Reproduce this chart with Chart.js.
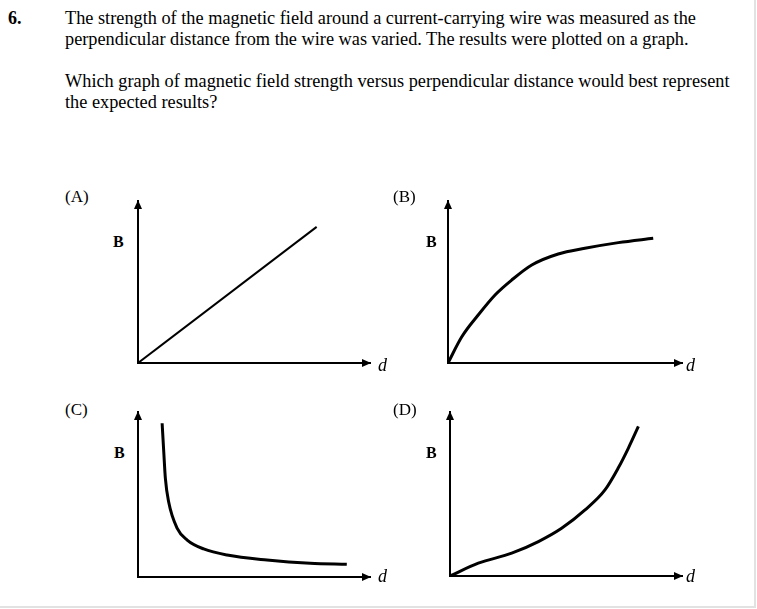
<!DOCTYPE html>
<html>
<head>
<meta charset="utf-8">
<script src="https://cdn.jsdelivr.net/npm/chart.js@4.4.1/dist/chart.umd.min.js"></script>
<style>
  html, body { margin: 0; padding: 0; background: #fff; }
  body { width: 757px; height: 609px; position: relative; overflow: hidden;
         font-family: "Liberation Serif", "Times New Roman", serif; color: #000; }
  .frame { position: absolute; left: 0; top: 0; width: 754px; height: 606px;
           border-right: 2px solid #e2e2e2; border-bottom: 2px solid #e2e2e2; }
  .txt { position: absolute; white-space: nowrap; }
  .num { left: 8px; top: 8px; font-size: 18px; line-height: 21px; font-weight: bold; }
  .question { left: 65px; top: 8px; font-size: 18.3px; line-height: 21px; }
  .opt { font-size: 17px; line-height: 18px; }
  .blabel { font-size: 16px; line-height: 16px; font-weight: bold; }
  .dlabel { font-size: 18px; line-height: 18px; font-style: italic; }
  canvas { position: absolute; }
</style>
</head>
<body>
<div class="frame"></div>
<div class="txt num">6.</div>
<div class="txt question">The strength of the magnetic field around a current-carrying wire was measured as the<br>perpendicular distance from the wire was varied. The results were plotted on a graph.<br><br>Which graph of magnetic field strength versus perpendicular distance would best represent<br>the expected results?</div>

<div id="panels"></div>

<script>
// curve values (d along x, B up the y axis, both 0..10)
const panelNames = ['(A)', '(B)', '(C)', '(D)'];
const dA = [0, 7.7];
const bA = [0, 8.4];
const dB = [0, 0.59, 1.29, 2.01, 2.72, 3.58, 4.71, 5.85, 7.28, 8.77];
const bB = [0, 1.62, 2.96, 4.20, 5.12, 6.05, 6.73, 7.08, 7.43, 7.70];
const dC = [1.04, 1.11, 1.18, 1.32, 1.69, 2.12, 2.83, 3.84, 5.56, 7.42, 9.0];
const bC = [9.32, 7.59, 5.98, 4.56, 2.95, 2.24, 1.70, 1.33, 1.03, 0.83, 0.77];
const dD = [0, 1.22, 2.66, 3.81, 4.81, 5.82, 6.68, 7.25, 7.69, 8.12];
const bD = [0, 0.78, 1.39, 2.10, 2.91, 4.03, 5.25, 6.58, 7.80, 9.12];
const axisMin = 0;
const axisMax = 10;

// where each little graph sits on the page: origin x/y, arrow tip x, top y
const layout = [
  { ox: 138, oy: 363, tip: 370, top: 201, lw: 2, label: [65, 188], bl: [113, 234], dl: [378, 356] },
  { ox: 448, oy: 363, tip: 682, top: 201, lw: 3, label: [393, 188], bl: [426, 234], dl: [686, 356] },
  { ox: 138, oy: 577, tip: 370, top: 412, lw: 3, label: [65, 401], bl: [114, 445], dl: [378, 567] },
  { ox: 450, oy: 576, tip: 682, top: 412, lw: 3, label: [393, 401], bl: [426, 445], dl: [686, 567] }
];
const series = [[dA, bA], [dB, bB], [dC, bC], [dD, bD]];
const PAD = 12;

const arrowHeads = {
  id: 'arrowHeads',
  afterDraw(chart) {
    const ctx = chart.ctx;
    const x = chart.scales.x, y = chart.scales.y;
    const ox = chart.chartArea.left, oy = chart.chartArea.bottom;
    ctx.save();
    ctx.fillStyle = '#000';
    // right arrow on d axis
    const tx = x.getPixelForValue(axisMax);
    ctx.beginPath();
    ctx.moveTo(tx + 1, oy);
    ctx.lineTo(tx - 8, oy - 4);
    ctx.lineTo(tx - 8, oy + 4);
    ctx.closePath();
    ctx.fill();
    // up arrow on B axis
    const ty = y.getPixelForValue(axisMax);
    ctx.beginPath();
    ctx.moveTo(ox, ty - 1);
    ctx.lineTo(ox - 4, ty + 8);
    ctx.lineTo(ox + 4, ty + 8);
    ctx.closePath();
    ctx.fill();
    ctx.restore();
  }
};

function addText(cls, text, pos) {
  const el = document.createElement('div');
  el.className = 'txt ' + cls;
  el.textContent = text;
  el.style.left = pos[0] + 'px';
  el.style.top = pos[1] + 'px';
  document.body.appendChild(el);
}

function makePanel(i) {
  const L = layout[i];
  const [ds, bs] = series[i];
  const canvas = document.createElement('canvas');
  const w = L.tip - L.ox + PAD * 2;
  const h = L.oy - L.top + PAD * 2;
  canvas.width = w;
  canvas.height = h;
  canvas.style.left = (L.ox - PAD) + 'px';
  canvas.style.top = (L.top - PAD) + 'px';
  canvas.style.width = w + 'px';
  canvas.style.height = h + 'px';
  document.getElementById('panels').appendChild(canvas);

  new Chart(canvas.getContext('2d'), {
    type: 'line',
    data: {
      datasets: [{
        data: ds.map((d, k) => ({ x: d, y: bs[k] })),
        borderColor: '#000',
        borderWidth: L.lw,
        pointRadius: 0,
        fill: false,
        cubicInterpolationMode: 'monotone'
      }]
    },
    options: {
      responsive: false,
      animation: false,
      devicePixelRatio: 1,
      layout: { padding: PAD },
      plugins: { legend: { display: false }, tooltip: { enabled: false } },
      scales: {
        x: {
          type: 'linear', min: axisMin, max: axisMax,
          grid: { display: false, drawTicks: false },
          ticks: { display: false },
          border: { display: true, color: '#000', width: 2 },
          afterFit: s => { s.height = 0; }
        },
        y: {
          type: 'linear', min: axisMin, max: axisMax,
          grid: { display: false, drawTicks: false },
          ticks: { display: false },
          border: { display: true, color: '#000', width: 2 },
          afterFit: s => { s.width = 0; }
        }
      }
    },
    plugins: [arrowHeads]
  });

  addText('opt', panelNames[i], L.label);
  addText('blabel', 'B', L.bl);
  addText('dlabel', 'd', L.dl);
}

for (let i = 0; i < layout.length; i++) makePanel(i);
</script>
</body>
</html>
